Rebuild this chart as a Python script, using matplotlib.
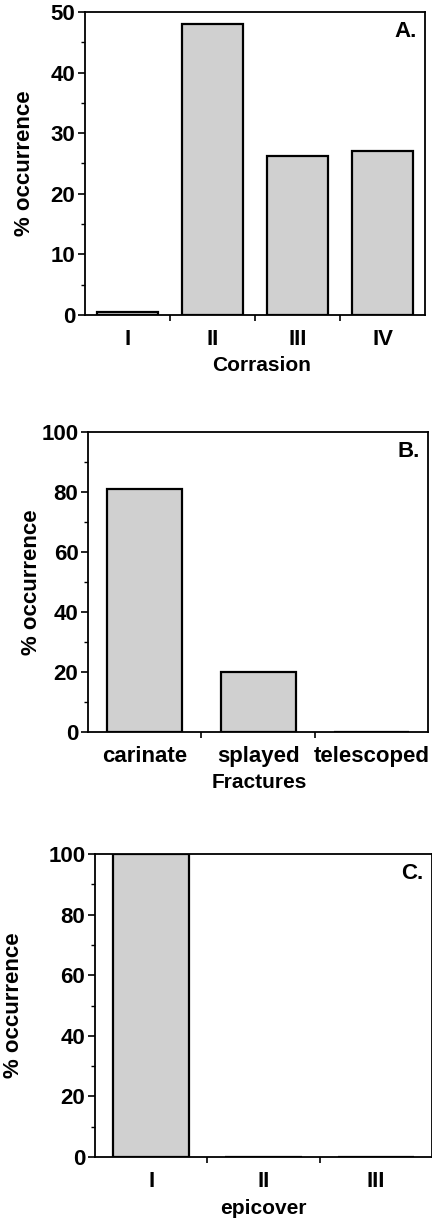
import numpy as np
import matplotlib
matplotlib.use('Agg')
import matplotlib.pyplot as plt
from matplotlib.ticker import MultipleLocator

plt.rcParams['font.family'] = ['Liberation Sans', 'DejaVu Sans']
plt.rcParams['font.weight'] = 'bold'

# panel A
corrasion = ['I', 'II', 'III', 'IV']
corrasion_pct = [0.5, 48, 26.2, 27]
# panel B
fractures = ['carinate', 'splayed', 'telescoped']
fractures_pct = [81, 20, 0]
# panel C
epicover = ['I', 'II', 'III']
epicover_pct = [100, 0, 0]

fill = '#d0d0d0'
fs = 16

fig = plt.figure(figsize=(4.32, 12.2), dpi=100)

panels = [
    # rect, cats, vals, xlabel, tag, ymax, major, width, ylab_x, xlab_xy
    ([0.197, 0.742, 0.787, 0.248], corrasion, corrasion_pct, 'Corrasion', 'A.', 50, 10, 0.72, -0.148, (0.52, -0.135)),
    ([0.204, 0.400, 0.787, 0.246], fractures, fractures_pct, 'Fractures', 'B.', 100, 20, 0.66, -0.135, (0.503, -0.137)),
    ([0.220, 0.0516, 0.780, 0.2484], epicover, epicover_pct, 'epicover', 'C.', 100, 20, 0.68, -0.21, (0.5, -0.138)),
]

for rect, cats, vals, xlab, tag, ymax, major, width, ylx, xlxy in panels:
    ax = fig.add_axes(rect)
    x = np.arange(len(cats))
    ax.bar(x, vals, width, color=fill, edgecolor='black', linewidth=1.6)
    ax.set_xlim(-0.5, len(cats) - 0.5)
    ax.set_ylim(0, ymax)

    ax.set_xticks(x)
    ax.set_xticklabels(cats, fontsize=fs, fontweight='bold')
    ax.set_xticks(x[:-1] + 0.5, minor=True)
    ax.tick_params(axis='x', which='major', length=0, pad=10)
    ax.tick_params(axis='x', which='minor', length=4, width=1.2, direction='out')

    ax.yaxis.set_major_locator(MultipleLocator(major))
    ax.yaxis.set_minor_locator(MultipleLocator(major / 2))
    ax.tick_params(axis='y', which='major', length=5, width=1.2, pad=2, labelsize=fs)
    ax.tick_params(axis='y', which='minor', length=3, width=1.0)
    for lbl in ax.get_yticklabels():
        lbl.set_fontweight('bold')

    for s in ax.spines.values():
        s.set_linewidth(1.3)

    ax.set_ylabel('% occurrence', fontsize=fs, fontweight='bold')
    ax.yaxis.set_label_coords(ylx, 0.5)
    ax.set_xlabel(xlab, fontsize=15, fontweight='bold')
    ax.xaxis.set_label_coords(*xlxy)

    ax.text(0.975, 0.97, tag, transform=ax.transAxes, ha='right', va='top',
            fontsize=fs, fontweight='bold')

fig.savefig('out.png', dpi=100)
